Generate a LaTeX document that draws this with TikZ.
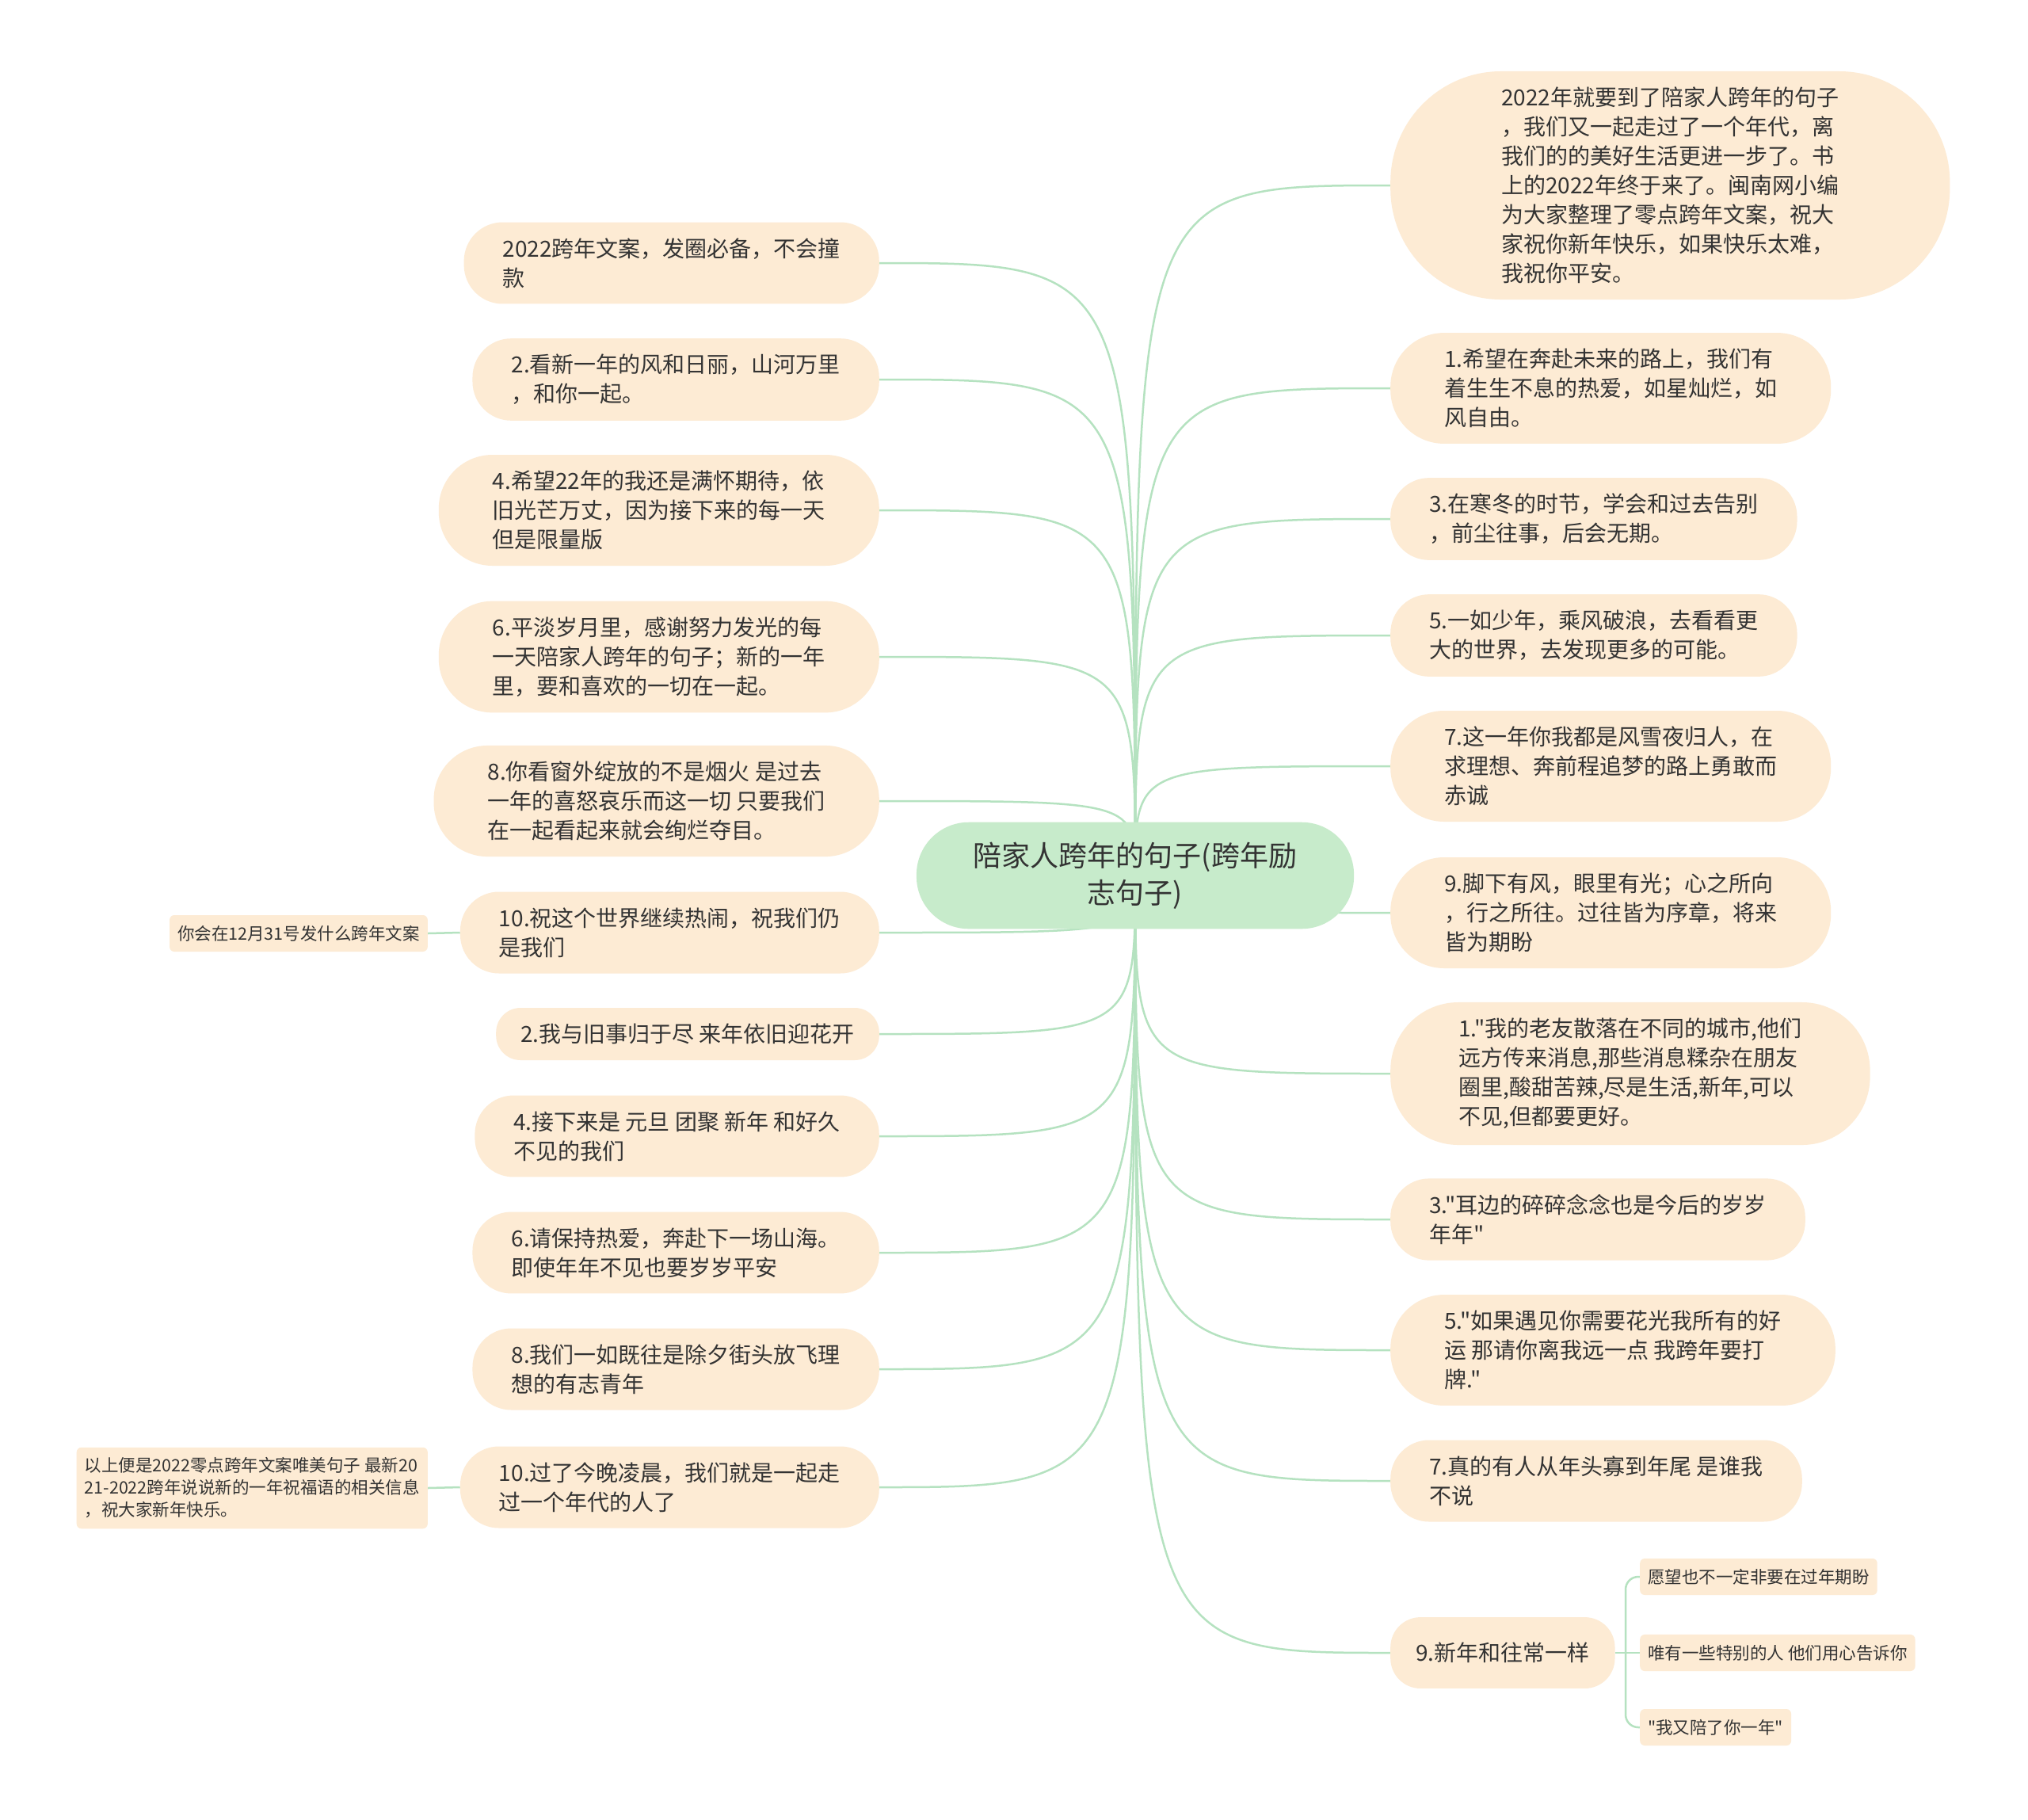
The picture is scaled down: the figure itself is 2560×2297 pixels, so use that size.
\documentclass[tikz,border=0pt]{standalone}
\usepackage{fontspec}
\setmainfont{Noto Sans CJK SC}[Ligatures=TeXOff]
\usepackage{xcolor}
\usepackage{tikz}
\usetikzlibrary{backgrounds}
\definecolor{rootfill}{RGB}{199, 235, 203}
\definecolor{leaffill}{RGB}{253, 235, 212}
\definecolor{branch}{RGB}{181, 226, 192}
\definecolor{ink}{RGB}{51, 51, 51}

\begin{document}
\begin{tikzpicture}[x=1pt, y=-1pt,
    mainbox/.style={rectangle, rounded corners=66pt, fill=rootfill, text=ink,
      align=center, inner xsep=72pt, inner ysep=25pt,
      font=\fontsize{36}{47}\selectfont},
    leafbox/.style={rectangle, rounded corners=#1, fill=leaffill, text=ink,
      align=left, inner xsep=#1, inner ysep=20pt,
      font=\fontsize{28}{37}\selectfont},
    leafbox/.default=49pt,
    topicbox/.style={rectangle, rounded corners=38pt, fill=leaffill, text=ink,
      inner sep=32pt, font=\fontsize{28}{37}\selectfont},
    notebox/.style={rectangle, rounded corners=6pt, fill=leaffill, text=ink,
      align=left, inner xsep=10pt, inner ysep=13pt,
      font=\fontsize{21.5}{28}\selectfont},
    branchline/.style={draw=branch, line width=2.5pt}]
  \useasboundingbox (0,0) rectangle (2560,2297);
  % ── Centre ──
  \node[mainbox] (root) at (1433,1105) {陪家人跨年的句子(跨年励\\志句子)};
  % ── Left branches ──
  \node[leafbox, anchor=east] (l1) at (1110,332)
    {2022跨年文案，发圈必备，不会撞\\款};
  \node[leafbox, anchor=east] (l2) at (1110,479)
    {2.看新一年的风和日丽，山河万里\\，和你一起。};
  \node[leafbox=68pt, anchor=east] (l3) at (1110,644)
    {4.希望22年的我还是满怀期待，依\\旧光芒万丈，因为接下来的每一天\\但是限量版};
  \node[leafbox=68pt, anchor=east] (l4) at (1110,829)
    {6.平淡岁月里，感谢努力发光的每\\一天陪家人跨年的句子；新的一年\\里，要和喜欢的一切在一起。};
  \node[leafbox=68pt, anchor=east] (l5) at (1110,1011)
    {8.你看窗外绽放的不是烟火 是过去\\一年的喜怒哀乐而这一切 只要我们\\在一起看起来就会绚烂夺目。};
  \node[leafbox, anchor=east] (l6) at (1110,1177)
    {10.祝这个世界继续热闹，祝我们仍\\是我们};
  \node[notebox, anchor=east] (l6a) at (540,1178)
    {你会在12月31号发什么跨年文案};
  \node[leafbox=31pt, anchor=east] (l7) at (1110,1305)
    {2.我与旧事归于尽 来年依旧迎花开};
  \node[leafbox, anchor=east] (l8) at (1110,1434)
    {4.接下来是 元旦 团聚 新年 和好久\\不见的我们};
  \node[leafbox, anchor=east] (l9) at (1110,1581)
    {6.请保持热爱，奔赴下一场山海。\\即使年年不见也要岁岁平安};
  \node[leafbox, anchor=east] (l10) at (1110,1728)
    {8.我们一如既往是除夕街头放飞理\\想的有志青年};
  \node[leafbox, anchor=east] (l11) at (1110,1877)
    {10.过了今晚凌晨，我们就是一起走\\过一个年代的人了};
  \node[notebox, anchor=east] (l11a) at (540,1878)
    {以上便是2022零点跨年文案唯美句子 最新20\\21-2022跨年说说新的一年祝福语的相关信息\\，祝大家新年快乐。};
  % ── Right branches ──
  \node[leafbox=140pt, anchor=west] (r1) at (1755,234)
    {2022年就要到了陪家人跨年的句子\\，我们又一起走过了一个年代，离\\我们的的美好生活更进一步了。书\\上的2022年终于来了。闽南网小编\\为大家整理了零点跨年文案，祝大\\家祝你新年快乐，如果快乐太难，\\我祝你平安。};
  \node[leafbox=68pt, anchor=west] (r2) at (1755,490)
    {1.希望在奔赴未来的路上，我们有\\着生生不息的热爱，如星灿烂，如\\风自由。};
  \node[leafbox, anchor=west] (r3) at (1755,655)
    {3.在寒冬的时节，学会和过去告别\\，前尘往事，后会无期。};
  \node[leafbox, anchor=west] (r4) at (1755,802)
    {5.一如少年，乘风破浪，去看看更\\大的世界，去发现更多的可能。};
  \node[leafbox=68pt, anchor=west] (r5) at (1755,967)
    {7.这一年你我都是风雪夜归人，在\\求理想、奔前程追梦的路上勇敢而\\赤诚};
  \node[leafbox=68pt, anchor=west] (r6) at (1755,1152)
    {9.脚下有风，眼里有光；心之所向\\，行之所往。过往皆为序章，将来\\皆为期盼};
  \node[leafbox=86pt, anchor=west] (r7) at (1755,1355)
    {1."我的老友散落在不同的城市,他们\\远方传来消息,那些消息糅杂在朋友\\圈里,酸甜苦辣,尽是生活,新年,可以\\不见,但都要更好。};
  \node[leafbox, anchor=west] (r8) at (1755,1539)
    {3."耳边的碎碎念念也是今后的岁岁\\年年"};
  \node[leafbox=68pt, anchor=west] (r9) at (1755,1704)
    {5."如果遇见你需要花光我所有的好\\运 那请你离我远一点 我跨年要打\\牌."};
  \node[leafbox, anchor=west] (r10) at (1755,1869)
    {7.真的有人从年头寡到年尾 是谁我\\不说};
  \node[topicbox, anchor=west] (r11) at (1755,2086) {9.新年和往常一样};
  \node[notebox, anchor=west] (r11a) at (2070,1990) {愿望也不一定非要在过年期盼};
  \node[notebox, anchor=west] (r11b) at (2070,2086) {唯有一些特别的人 他们用心告诉你};
  \node[notebox, anchor=west] (r11c) at (2070,2180) {"我又陪了你一年"};
  \coordinate (fork) at (2052,2086);
  % ── Connectors ──
  \begin{scope}[on background layer]
    \fill[white] (0,0) rectangle (2560,2297);
    \draw[branchline] (root.center) .. controls (root.center |- l1.east) .. (l1.east);
    \draw[branchline] (root.center) .. controls (root.center |- l2.east) .. (l2.east);
    \draw[branchline] (root.center) .. controls (root.center |- l3.east) .. (l3.east);
    \draw[branchline] (root.center) .. controls (root.center |- l4.east) .. (l4.east);
    \draw[branchline] (root.center) .. controls (root.center |- l5.east) .. (l5.east);
    \draw[branchline] (root.center) .. controls (root.center |- l6.east) .. (l6.east);
    \draw[branchline] (root.center) .. controls (root.center |- l7.east) .. (l7.east);
    \draw[branchline] (root.center) .. controls (root.center |- l8.east) .. (l8.east);
    \draw[branchline] (root.center) .. controls (root.center |- l9.east) .. (l9.east);
    \draw[branchline] (root.center) .. controls (root.center |- l10.east) .. (l10.east);
    \draw[branchline] (root.center) .. controls (root.center |- l11.east) .. (l11.east);
    \draw[branchline] (root.center) .. controls (root.center |- r1.west) .. (r1.west);
    \draw[branchline] (root.center) .. controls (root.center |- r2.west) .. (r2.west);
    \draw[branchline] (root.center) .. controls (root.center |- r3.west) .. (r3.west);
    \draw[branchline] (root.center) .. controls (root.center |- r4.west) .. (r4.west);
    \draw[branchline] (root.center) .. controls (root.center |- r5.west) .. (r5.west);
    \draw[branchline] (root.center) .. controls (root.center |- r6.west) .. (r6.west);
    \draw[branchline] (root.center) .. controls (root.center |- r7.west) .. (r7.west);
    \draw[branchline] (root.center) .. controls (root.center |- r8.west) .. (r8.west);
    \draw[branchline] (root.center) .. controls (root.center |- r9.west) .. (r9.west);
    \draw[branchline] (root.center) .. controls (root.center |- r10.west) .. (r10.west);
    \draw[branchline] (root.center) .. controls (root.center |- r11.west) .. (r11.west);
    \draw[branchline] (l6.west) -- (l6a.east);
    \draw[branchline] (l11.west) -- (l11a.east);
    \draw[branchline] (r11.east) -- (fork);
    \draw[branchline, rounded corners=16pt] (fork) |- (r11a.west);
    \draw[branchline] (fork) -- (r11b.west);
    \draw[branchline, rounded corners=16pt] (fork) |- (r11c.west);
  \end{scope}
\end{tikzpicture}
\end{document}
